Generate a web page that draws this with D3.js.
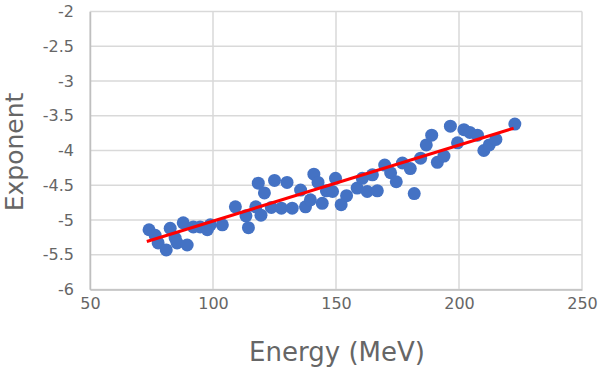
<!DOCTYPE html>
<html>
<head>
<meta charset="utf-8">
<script src="https://cdn.jsdelivr.net/npm/d3@7"></script>
<style>
  html, body { margin: 0; padding: 0; background: #fff; }
  svg { display: block; }
  text { font-family: "DejaVu Sans", sans-serif; }
</style>
</head>
<body>
<svg id="chart" width="600" height="368"></svg>
<script>
// ---- data ----
const energy = [74.0, 76.5, 77.7, 81.0, 82.6, 84.6, 85.4, 87.9, 89.5, 92.0,
  94.8, 97.7, 98.9, 103.8, 109.1, 113.4, 114.4, 117.4, 118.4, 119.5,
  120.9, 123.7, 125.0, 127.8, 130.1, 132.2, 135.6, 137.6, 139.6, 141.0,
  142.7, 144.4, 146.1, 148.6, 149.8, 152.1, 154.3, 158.6, 160.7, 162.7,
  164.8, 166.8, 169.8, 172.2, 174.5, 177.0, 180.2, 181.8, 184.4, 186.7,
  188.9, 191.2, 193.9, 196.5, 199.4, 202.0, 204.4, 207.5, 210.1, 212.3,
  215.0, 222.7];
const exponent = [-5.14, -5.22, -5.33, -5.43, -5.12, -5.26, -5.33, -5.04, -5.36, -5.10,
  -5.10, -5.14, -5.07, -5.07, -4.81, -4.94, -5.11, -4.81, -4.47, -4.93,
  -4.61, -4.82, -4.43, -4.83, -4.46, -4.83, -4.57, -4.81, -4.71, -4.34,
  -4.46, -4.76, -4.58, -4.59, -4.40, -4.78, -4.65, -4.54, -4.40, -4.59,
  -4.35, -4.58, -4.21, -4.32, -4.45, -4.18, -4.26, -4.62, -4.11, -3.92,
  -3.78, -4.17, -4.08, -3.65, -3.89, -3.70, -3.74, -3.78, -4.00, -3.92,
  -3.84, -3.62];
const trendEnergy = [73.1, 222.2];
const trendExponent = [-5.31, -3.68];
const xTicks = [50, 100, 150, 200, 250];
const yTicks = [-6, -5.5, -5, -4.5, -4, -3.5, -3, -2.5, -2];
const xTitle = "Energy (MeV)";
const yTitle = "Exponent";

// ---- layout ----
const svg = d3.select("#chart");
const mLeft = 90, mRight = 582, mTop = 11.5, mBottom = 289.5;
const x = d3.scaleLinear().domain([50, 250]).range([mLeft, mRight]);
const y = d3.scaleLinear().domain([-6, -2]).range([mBottom, mTop]);

const gridColor = "#d9d9d9";
const textColor = "#666666";
const fontFam = '"DejaVu Sans", sans-serif';

// grid
svg.append("g").selectAll("line").data(yTicks).join("line")
  .attr("x1", mLeft).attr("x2", mRight)
  .attr("y1", d => y(d)).attr("y2", d => y(d))
  .attr("stroke", gridColor).attr("stroke-width", 1.5);
svg.append("g").selectAll("line").data(xTicks).join("line")
  .attr("x1", d => x(d)).attr("x2", d => x(d))
  .attr("y1", mTop).attr("y2", mBottom)
  .attr("stroke", gridColor).attr("stroke-width", 1.5);

// axes
const xAxis = d3.axisBottom(x).tickValues(xTicks).tickSize(0).tickPadding(8.5).tickFormat(d3.format("d"));
const yAxis = d3.axisLeft(y).tickValues(yTicks).tickSize(0).tickPadding(16).tickFormat(d => String(d));
const gx = svg.append("g").attr("transform", `translate(0,${mBottom})`).call(xAxis);
const gy = svg.append("g").attr("transform", `translate(${mLeft},0)`).call(yAxis);
[gx, gy].forEach(g => {
  g.select(".domain").attr("stroke", "#bfbfbf").attr("stroke-width", 1.5);
  g.selectAll("text").attr("fill", textColor).style("font-size", "16px")
    .style("font-family", fontFam);
});

// points
svg.append("g").selectAll("circle").data(energy.map((e, i) => [e, exponent[i]])).join("circle")
  .attr("cx", d => x(d[0])).attr("cy", d => y(d[1])).attr("r", 6.5)
  .attr("fill", "#4472c4");

// trend line (drawn on top)
svg.append("line")
  .attr("x1", x(trendEnergy[0])).attr("y1", y(trendExponent[0]))
  .attr("x2", x(trendEnergy[1])).attr("y2", y(trendExponent[1]))
  .attr("stroke", "#ff0000").attr("stroke-width", 3);

// titles
svg.append("text").attr("x", (mLeft + mRight) / 2 + 1).attr("y", 361)
  .attr("text-anchor", "middle").attr("fill", textColor)
  .style("font-size", "26px").style("font-family", fontFam).text(xTitle);
svg.append("text").attr("transform", `translate(23,152) rotate(-90)`)
  .attr("text-anchor", "middle").attr("fill", textColor)
  .style("font-size", "25px").style("font-family", fontFam).text(yTitle);
</script>
</body>
</html>
